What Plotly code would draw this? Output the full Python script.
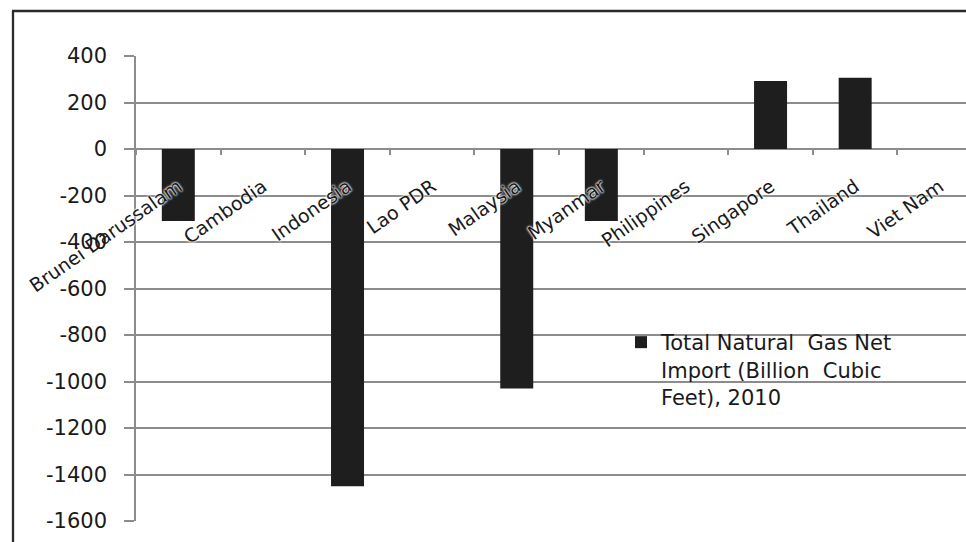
import plotly.graph_objects as go

# ASEAN natural gas net imports, 2010 (billion cubic feet)
countries = ["Brunei Darussalam", "Cambodia", "Indonesia", "Lao PDR", "Malaysia",
             "Myanmar", "Philippines", "Singapore", "Thailand", "Viet Nam"]
net_import = [-310, 0, -1450, 0, -1030, -310, 0, 293, 306, 0]
y_ticks = [400, 200, 0, -200, -400, -600, -800, -1000, -1200, -1400, -1600]
series_name = ("Total Natural\u00a0 Gas Net<br>"
               "Import (Billion\u00a0 Cubic<br>"
               "Feet),\u00a02010")

W, H = 966, 542
L, R, T, B = 136, 0, 56, 21
pw, ph = W - L - R, H - T - B

def px_x(x):
    return (x - L) / pw

def px_y(y):
    return (H - B - y) / ph

FONT = "DejaVu Sans"
GRID = "#8c8c8c"
INK = "#1a1a1a"
HALO = "white 0px 0px 2px, white 0px 0px 2px, white 0px 0px 3px"

fig = go.Figure()
fig.add_trace(go.Bar(
    x=countries,
    y=net_import,
    name=series_name,
    marker=dict(color="#1e1e1e", line=dict(width=0)),
    width=0.39,
    showlegend=True,
))

fig.update_layout(
    width=W, height=H,
    margin=dict(l=L, r=R, t=T, b=B, pad=0),
    paper_bgcolor="white",
    plot_bgcolor="white",
    font=dict(family=FONT, color=INK, size=18),
    showlegend=True,
    legend=dict(
        x=px_x(621), y=px_y(322), xanchor="left", yanchor="top",
        bgcolor="rgba(0,0,0,0)",
        font=dict(family=FONT, size=21, color=INK),
        valign="top",
        tracegroupgap=0,
        itemclick=False,
    ),
    xaxis=dict(
        type="category",
        range=[-0.5, 9.31],
        anchor="free",
        position=0.8,
        layer="above traces",
        showgrid=False,
        showline=False,
        zeroline=False,
        ticks="outside",
        tickson="boundaries",
        ticklen=5,
        tickwidth=1.5,
        tickcolor=GRID,
        tickangle=-35,
        ticklabelstandoff=22,
        tickfont=dict(family=FONT, size=19, color=INK, shadow=HALO),
    ),
    yaxis=dict(
        range=[-1600, 400],
        tickmode="array",
        tickvals=y_ticks,
        ticktext=[str(v) for v in y_ticks],
        showgrid=True,
        gridcolor=GRID,
        gridwidth=1.5,
        zeroline=False,
        showline=True,
        linecolor=GRID,
        linewidth=1.5,
        ticks="outside",
        ticklen=10,
        tickwidth=1.5,
        tickcolor=GRID,
        ticklabelstandoff=13,
        tickfont=dict(family=FONT, size=21, color=INK),
    ),
    shapes=[
        # white panel behind the legend, interrupting the gridlines
        dict(type="rect", xref="paper", yref="paper", layer="between",
             x0=px_x(583), x1=px_x(942), y0=px_y(412), y1=px_y(305),
             fillcolor="white", line=dict(width=0)),
        # outer frame (left and top edges visible)
        dict(type="line", xref="paper", yref="paper",
             x0=px_x(13), x1=px_x(13), y0=px_y(H + 5), y1=px_y(11),
             line=dict(color="#2a2a2a", width=2.3)),
        dict(type="line", xref="paper", yref="paper",
             x0=px_x(12), x1=px_x(W + 5), y0=px_y(11), y1=px_y(11),
             line=dict(color="#2a2a2a", width=2.3)),
    ],
)

fig.write_html("out.html")
